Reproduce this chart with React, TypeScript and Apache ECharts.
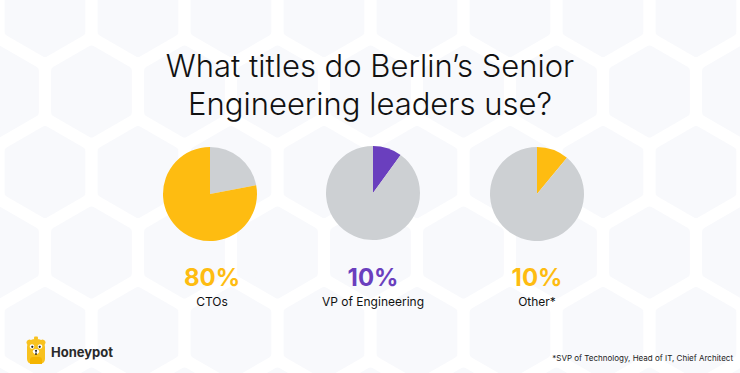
import { useEffect, useRef } from "react";
import * as echarts from "echarts";

const categories = ["CTOs", "VP of Engineering", "Other*"];
const percentLabels = ["80%", "10%", "10%"];
const sliceShares = [78, 10, 11];
const highlightFirst = [false, true, true];
const highlightColors = ["#FEBC11", "#6A3FBE", "#FEBC11"];
const titleLines = ["What titles do Berlin’s Senior", "Engineering leaders use?"];
const footnote = "*SVP of Technology, Head of IT, Chief Architect";
const brand = "Honeypot";

const W = 740;
const H = 373;
const GRAY = "#CDD0D3";
const FONT = "Inter, 'Noto Sans', sans-serif";

function hexagons(): any[] {
  const out: any[] = [];
  const R = 42;
  const dx = 93;
  const dy = 80.5;
  for (let row = 0; row < 6; row++) {
    const cy = 11 + row * dy;
    const off = row % 2 === 0 ? 0 : dx / 2;
    for (let col = -1; col < 10; col++) {
      const cx = 45 + off + col * dx;
      const pts: number[][] = [];
      for (let k = 0; k < 6; k++) {
        const a = (Math.PI / 3) * k - Math.PI / 2;
        pts.push([cx + R * Math.cos(a), cy + R * Math.sin(a)]);
      }
      out.push({
        type: "polygon",
        silent: true,
        z: -10,
        shape: { points: pts },
        style: { fill: "#F8F9FC", stroke: "#F8F9FC", lineWidth: 8, lineJoin: "round" },
      });
    }
  }
  return out;
}

function bear(): any[] {
  const Y = "#F8C21F";
  return [
    { type: "rect", shape: { x: 34, y: 336.5, width: 4, height: 3, r: 1 }, style: { fill: Y } },
    { type: "circle", shape: { cx: 29.5, cy: 342.5, r: 3 }, style: { fill: Y } },
    { type: "circle", shape: { cx: 42.5, cy: 342.5, r: 3 }, style: { fill: Y } },
    { type: "rect", shape: { x: 27, y: 339, width: 18, height: 25, r: [8, 8, 5, 5] }, style: { fill: Y } },
    { type: "circle", shape: { cx: 32, cy: 346.5, r: 2.3 }, style: { fill: "#fff" } },
    { type: "circle", shape: { cx: 40, cy: 346.5, r: 2.3 }, style: { fill: "#fff" } },
    { type: "circle", shape: { cx: 32.3, cy: 346.8, r: 1.1 }, style: { fill: "#222" } },
    { type: "circle", shape: { cx: 39.7, cy: 346.8, r: 1.1 }, style: { fill: "#222" } },
    { type: "ellipse", shape: { cx: 36, cy: 351.5, rx: 3.2, ry: 2.6 }, style: { fill: "#fff" } },
    { type: "circle", shape: { cx: 36, cy: 350.8, r: 1 }, style: { fill: "#222" } },
    { type: "rect", shape: { x: 35.3, y: 352.5, width: 1.4, height: 2.5 }, style: { fill: "#222" } },
    { type: "rect", shape: { x: 30, y: 357, width: 12, height: 7, r: [3, 3, 0, 0] }, style: { fill: "#F4B400" } },
  ];
}

export default function App() {
  const ref = useRef<HTMLDivElement>(null);
  useEffect(() => {
    document.body.style.margin = "0";
    if (!ref.current) return;
    const chart = echarts.init(ref.current, undefined, { renderer: "svg" });
    const centers = [
      [210, 194],
      [373, 193],
      [537, 194],
    ];
    const series = sliceShares.map((share, i) => {
      const hi = { value: share, name: categories[i], itemStyle: { color: highlightColors[i] } };
      const rest = { value: 100 - share, name: "rest", itemStyle: { color: GRAY } };
      return {
        type: "pie",
        center: centers[i],
        radius: 47,
        startAngle: 90,
        clockwise: true,
        silent: true,
        label: { show: false },
        labelLine: { show: false },
        data: highlightFirst[i] ? [hi, rest] : [rest, hi],
      };
    });
    const texts: any[] = [];
    categories.forEach((c, i) => {
      texts.push({
        type: "text",
        x: centers[i][0] + (i === 0 ? 2 : 0),
        y: 277.5,
        style: {
          text: percentLabels[i],
          fill: highlightColors[i],
          font: `700 24px ${FONT}`,
          textAlign: "center",
          textVerticalAlign: "middle",
        },
      });
      texts.push({
        type: "text",
        x: centers[i][0] + (i === 0 ? 2 : 0),
        y: 301,
        style: {
          text: c,
          fill: "#111",
          font: `400 12px ${FONT}`,
          textAlign: "center",
          textVerticalAlign: "middle",
        },
      });
    });
    titleLines.forEach((t, i) => {
      texts.push({
        type: "text",
        x: 370,
        y: 65 + i * 38,
        style: {
          text: t,
          fill: "#111",
          font: `300 31px ${FONT}`,
          textAlign: "center",
          textVerticalAlign: "middle",
        },
      });
    });
    texts.push({
      type: "text",
      x: 733,
      y: 358,
      style: {
        text: footnote,
        fill: "#222",
        font: `400 8px ${FONT}`,
        textAlign: "right",
        textVerticalAlign: "middle",
      },
    });
    texts.push({
      type: "text",
      x: 51,
      y: 352,
      style: {
        text: brand,
        fill: "#2a2a2a",
        font: `700 13px ${FONT}`,
        textAlign: "left",
        textVerticalAlign: "middle",
      },
    });
    chart.setOption({
      animation: false,
      backgroundColor: "#FFFFFF",
      graphic: { elements: [...hexagons(), ...bear(), ...texts] },
      series,
    });
    return () => chart.dispose();
  }, []);
  return <div ref={ref} style={{ width: W, height: H, position: "absolute", left: 0, top: 0 }} />;
}
